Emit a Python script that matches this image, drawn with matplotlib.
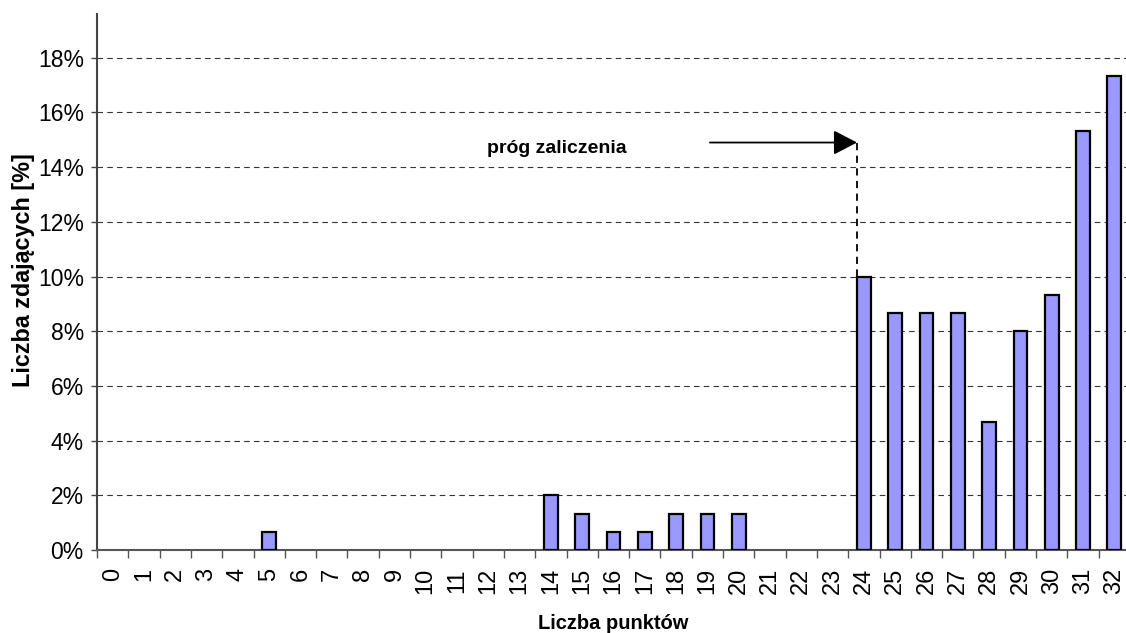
import numpy as np
import matplotlib.pyplot as plt
from matplotlib.ticker import FuncFormatter, MultipleLocator

plt.rcParams['font.family'] = ['Liberation Sans', 'DejaVu Sans']

# dane: liczba punktów i odsetek zdających [%]
punkty = list(range(33))
procent = [0, 0, 0, 0, 0, 0.67, 0, 0, 0, 0,
           0, 0, 0, 0, 2.0, 1.33, 0.67, 0.67, 1.33, 1.33,
           1.33, 0, 0, 0, 10.0, 8.67, 8.67, 8.67, 4.67, 8.0,
           9.33, 15.33, 17.33]
prog = 24
prog_y = 14.9
opis = 'próg zaliczenia'

fig = plt.figure(figsize=(11.26, 6.33), dpi=100)
ax = fig.add_axes([97 / 1126, 83 / 633, 1033 / 1126, 536 / 633])

# słupki o zerowej wartości bez obramowania
lw = [1.6 if v > 0 else 0 for v in procent]
ax.bar(punkty, procent, width=0.44, color='#9999ff', edgecolor='black',
       linewidth=lw, zorder=3)

ax.set_xlim(-0.5, 32.5)
ax.set_ylim(0, 19.6)

ax.yaxis.set_major_locator(MultipleLocator(2))
ax.yaxis.set_major_formatter(FuncFormatter(lambda v, p: f'{v:.0f}%'))
ax.grid(axis='y', color='#333333', linestyle=(0, (5, 3.8)), linewidth=0.8, zorder=0)
ax.set_axisbelow(True)

ax.set_xticks(punkty)
ax.set_xticklabels([str(p) for p in punkty], rotation=90)
ax.set_xticks(np.arange(-0.5, 33, 1), minor=True)
ax.tick_params(axis='x', which='major', length=0, pad=13, labelsize=17)
ax.tick_params(axis='x', which='minor', length=6, width=1, color='#555555', direction='out')
ax.tick_params(axis='y', length=4.5, width=1, color='#444444', pad=5, labelsize=16.5)

for s in ['top', 'right']:
    ax.spines[s].set_visible(False)
ax.spines['left'].set_color('#444444')
ax.spines['left'].set_linewidth(1.5)
ax.spines['bottom'].set_color('#555555')
ax.spines['bottom'].set_linewidth(1.5)

ax.set_ylabel('Liczba zdających [%]', fontsize=16.8, fontweight='bold')
ax.yaxis.set_label_coords(-0.06, 0.5 + 12 / 536)
ax.set_xlabel('Liczba punktów', fontsize=14.5, fontweight='bold', labelpad=14)

# strzałka i linia progu
x_prog = prog - 0.22
ax.annotate('', xy=(x_prog, prog_y), xytext=(19.08, prog_y),
            arrowprops=dict(arrowstyle='-|>,head_length=0.52,head_width=0.27',
                            color='black', lw=1.3, mutation_scale=28,
                            shrinkA=0, shrinkB=0), zorder=5)
ax.plot([x_prog, x_prog], [prog_y, 3.4], color='black', linestyle=(0, (4, 3)),
        linewidth=1.3, zorder=4)
ax.text(11.95, prog_y - 0.2, opis, fontsize=14, fontweight='bold', va='center', ha='left')

fig.savefig('out.png', dpi=100)
